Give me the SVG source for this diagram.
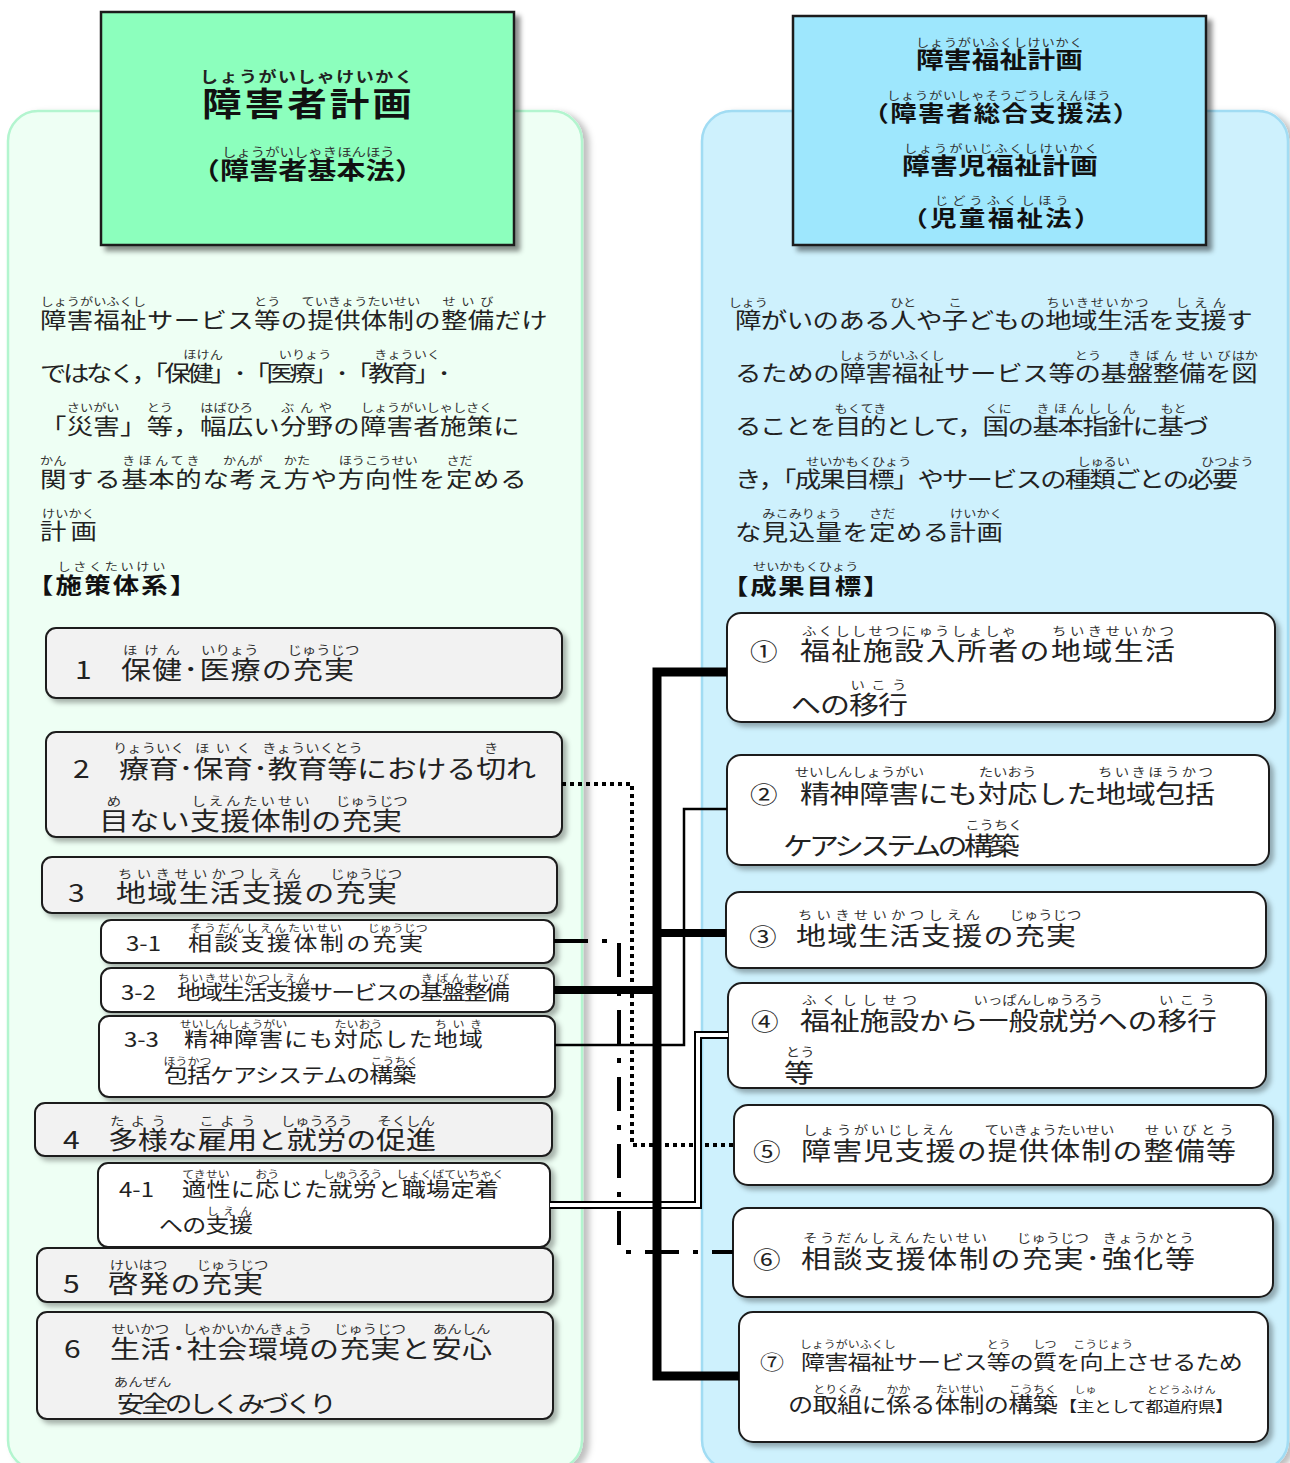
<svg xmlns="http://www.w3.org/2000/svg" width="1290" height="1463" viewBox="0 0 1290 1463">
<defs>
<filter id="psh" x="-5%" y="-5%" width="115%" height="115%"><feDropShadow dx="6" dy="3" stdDeviation="3" flood-color="#000" flood-opacity="0.25"/></filter>
<filter id="hsh" x="-5%" y="-5%" width="115%" height="120%"><feDropShadow dx="5" dy="5" stdDeviation="2.5" flood-color="#000" flood-opacity="0.45"/></filter>
<filter id="bsh" x="-5%" y="-15%" width="112%" height="140%"><feDropShadow dx="4" dy="4" stdDeviation="2.5" flood-color="#000" flood-opacity="0.3"/></filter>
</defs>
<style>
text{font-family:"Noto Sans CJK JP","Noto Sans",sans-serif;fill:#222}
.h{font-weight:bold;fill:#111}
.p{font-size:22px}
.r15{font-size:15px;letter-spacing:0;fill:#222}
.r12{font-size:12px;letter-spacing:0;font-weight:normal;fill:#333}
.r11{font-size:11px;letter-spacing:0;font-weight:normal;fill:#333}
.r10{font-size:10px;letter-spacing:0;fill:#333}
.r9{font-size:9px;letter-spacing:0;fill:#333}
.f33{font-size:33px}
.f25{font-size:25px}
.f24{font-size:24px}
.f23{font-size:23px}
.f22{font-size:22px}
.f21{font-size:21px}
.f20{font-size:20px}
.f15{font-size:15px}
.box{stroke:#1e1e1e;stroke-width:2}
.g{fill:#f2f2f2}
.w{fill:#fff}
.hd{stroke:#1a1a1a;stroke-width:2.5}
.c{fill:none;stroke:#000;stroke-linejoin:miter;stroke-linecap:butt}
.cw{fill:none;stroke:#fff;stroke-linejoin:miter;stroke-linecap:butt}
</style>

<g id="panels">
<rect x="8" y="111" width="574" height="1359" rx="30" fill="#eefff4" stroke="#b3f5cf" stroke-width="2.5" filter="url(#psh)"/>
<rect x="702" y="111" width="586" height="1359" rx="30" fill="#cef1fd" stroke="#a1dcf3" stroke-width="2.5" filter="url(#psh)"/>
</g>

<g id="header-left">
<rect class="hd" x="101" y="12" width="413" height="233" fill="#8cffbd" filter="url(#hsh)"/>
<g transform="scale(1.2,1)">
<text class="h f33" x="168.33" y="116" style="letter-spacing:2.5px">障害者計画<tspan class="r15" x="166.67" y="82" style="letter-spacing:1.25px">しょうがいしゃけいかく</tspan></text>
<text class="h f24" x="159.17" y="179" style="letter-spacing:0.28px">（障害者基本法）<tspan class="r12" x="185" y="157">しょうがいしゃきほんほう</tspan></text>
</g>
</g>

<g id="header-right">
<rect class="hd" x="793" y="16" width="413" height="229" fill="#9ee7fd" filter="url(#hsh)"/>
<g transform="scale(1.2,1)">
<text class="h f23" x="763.33" y="68" style="letter-spacing:0.23px">障害福祉計画<tspan class="r11" x="763.33" y="47" style="letter-spacing:0.65px">しょうがいふくしけいかく</tspan></text>
<text class="h f22" x="718.75" y="121" style="letter-spacing:1.19px">（障害者総合支援法）<tspan class="r11" x="739.17" y="100" style="letter-spacing:0.71px">しょうがいしゃそうごうしえんほう</tspan></text>
<text class="h f23" x="751.67" y="174" style="letter-spacing:0.39px">障害児福祉計画<tspan class="r11" x="753.33" y="153" style="letter-spacing:1.56px">しょうがいじふくしけいかく</tspan></text>
<text class="h f22" x="751.25" y="226" style="letter-spacing:1.98px">（児童福祉法）<tspan class="r11" x="779.17" y="205" style="letter-spacing:3.38px">じどうふくしほう</tspan></text>
</g>
</g>

<g id="desc-left">
<g transform="scale(1.2,1)">
<text class="p" x="33.33" y="328" style="letter-spacing:0.3px">障害福祉サービス等の提供体制の整備だけ<tspan class="r11" x="33.75" y="306">しょうがいふくし</tspan><tspan class="r11" x="211.75" y="306">とう</tspan><tspan class="r11" x="251.3" y="306">ていきょうたいせい</tspan><tspan class="r11" x="368.67" y="306" style="letter-spacing:4.83px">せいび</tspan></text>
<text class="p" x="33.33" y="381" style="letter-spacing:-2.78px">ではなく，「保健」･「医療」･「教育」･<tspan class="r11" x="152.75" y="359">ほけん</tspan><tspan class="r11" x="232.3" y="359">いりょう</tspan><tspan class="r11" x="311.9" y="359">きょういく</tspan></text>
<text class="p" x="33.33" y="434" style="letter-spacing:0.235px">「災害」等，幅広い分野の障害者施策に<tspan class="r11" x="55.7" y="412">さいがい</tspan><tspan class="r11" x="122.25" y="412">とう</tspan><tspan class="r11" x="166.9" y="412">はばひろ</tspan><tspan class="r11" x="234.2" y="412" style="letter-spacing:4.75px">ぶんや</tspan><tspan class="r11" x="300.6" y="412">しょうがいしゃしさく</tspan></text>
<text class="p" x="33.33" y="487" style="letter-spacing:0.575px">関する基本的な考え方や方向性を定める<tspan class="r11" x="33.33" y="465">かん</tspan><tspan class="r11" x="101.9" y="465" style="letter-spacing:2.63px">きほんてき</tspan><tspan class="r11" x="185.8" y="465">かんが</tspan><tspan class="r11" x="236.5" y="465">かた</tspan><tspan class="r11" x="282.25" y="465">ほうこうせい</tspan><tspan class="r11" x="372" y="465">さだ</tspan></text>
<text class="p" x="33.33" y="539" style="letter-spacing:3.5px">計画<tspan class="r11" x="35.1" y="518">けいかく</tspan></text>
<text class="h p" x="22.5" y="593" style="letter-spacing:1.83px">【施策体系】<tspan class="r11" x="47.9" y="571" style="letter-spacing:2.17px">しさくたいけい</tspan></text>
</g>
</g>

<g id="desc-right">
<g transform="scale(1.2,1)">
<text class="p" x="612.5" y="328" style="letter-spacing:-0.44px">障がいのある人や子どもの地域生活を支援す<tspan class="r11" x="607" y="307">しょう</tspan><tspan class="r11" x="741.8" y="307">ひと</tspan><tspan class="r11" x="790.5" y="307">こ</tspan><tspan class="r11" x="872" y="307" style="letter-spacing:1.35px">ちいきせいかつ</tspan><tspan class="r11" x="979.8" y="307" style="letter-spacing:4.42px">しえん</tspan></text>
<text class="p" x="612.5" y="381" style="letter-spacing:-0.22px">るための障害福祉サービス等の基盤整備を図<tspan class="r11" x="699.3" y="360">しょうがいふくし</tspan><tspan class="r11" x="895.7" y="360">とう</tspan><tspan class="r11" x="940.1" y="360" style="letter-spacing:3.93px">きばんせいび</tspan><tspan class="r11" x="1026.4" y="360">はか</tspan></text>
<text class="p" x="612.5" y="434" style="letter-spacing:-1.14px">ることを目的として，国の基本指針に基づ<tspan class="r11" x="695.4" y="413">もくてき</tspan><tspan class="r11" x="821.1" y="413">くに</tspan><tspan class="r11" x="863.7" y="413" style="letter-spacing:3.38px">きほんししん</tspan><tspan class="r11" x="967.1" y="413">もと</tspan></text>
<text class="p" x="612.5" y="487" style="letter-spacing:-1.52px">き，「成果目標」やサービスの種類ごとの必要<tspan class="r11" x="671.7" y="466">せいかもくひょう</tspan><tspan class="r11" x="897.7" y="466">しゅるい</tspan><tspan class="r11" x="1000.9" y="466">ひつよう</tspan></text>
<text class="p" x="612.5" y="540" style="letter-spacing:0.37px">な見込量を定める計画<tspan class="r11" x="635.25" y="518">みこみりょう</tspan><tspan class="r11" x="724.3" y="518">さだ</tspan><tspan class="r11" x="791.7" y="518">けいかく</tspan></text>
<text class="h p" x="601.67" y="594" style="letter-spacing:1.5px">【成果目標】<tspan class="r11" x="627.5" y="571">せいかもくひょう</tspan></text>
</g>
</g>

<g id="policy-1">
<rect class="box g" x="46" y="628" width="516" height="70" rx="10" filter="url(#bsh)"/>
<g transform="scale(1.2,1)">
<text class="f25" x="62.5" y="679">1</text>
<text class="f25" x="100.83" y="679" style="letter-spacing:0.95px">保健･医療の充実<tspan class="r12" x="102.5" y="655" style="letter-spacing:5.75px">ほけん</tspan><tspan class="r12" x="167.5" y="655">いりょう</tspan><tspan class="r12" x="239.5" y="655">じゅうじつ</tspan></text>
</g>
</g>

<g id="policy-2">
<rect class="box g" x="46" y="732" width="516" height="105" rx="10" filter="url(#bsh)"/>
<g transform="scale(1.2,1)">
<text class="f25" x="60.83" y="778">2</text>
<text class="f25" x="99.17" y="778" style="letter-spacing:-0.18px">療育･保育･教育等における切れ<tspan class="r12" x="94.1" y="753">りょういく</tspan><tspan class="r12" x="162.5" y="753" style="letter-spacing:5.33px">ほいく</tspan><tspan class="r12" x="218.5" y="753">きょういくとう</tspan><tspan class="r12" x="403.4" y="753">き</tspan></text>
<text class="f25" x="82.5" y="830" style="letter-spacing:0.28px">目ない支援体制の充実<tspan class="r12" x="89" y="806">め</tspan><tspan class="r12" x="159.6" y="806" style="letter-spacing:2.39px">しえんたいせい</tspan><tspan class="r12" x="279.8" y="806">じゅうじつ</tspan></text>
</g>
</g>

<g id="policy-3">
<rect class="box g" x="42" y="857" width="515" height="56" rx="10" filter="url(#bsh)"/>
<g transform="scale(1.2,1)">
<text class="f25" x="56.67" y="902">3</text>
<text class="f25" x="96.67" y="902" style="letter-spacing:1.15px">地域生活支援の充実<tspan class="r12" x="98.33" y="879" style="letter-spacing:3.61px">ちいきせいかつしえん</tspan><tspan class="r12" x="275.25" y="879">じゅうじつ</tspan></text>
</g>
</g>

<g id="policy-3-1">
<rect class="box w" x="101" y="920" width="453" height="43" rx="10" filter="url(#bsh)"/>
<g transform="scale(1.2,1)">
<text class="f20" x="105" y="951">3-1</text>
<text class="f20" x="156.67" y="951" style="letter-spacing:1.98px">相談支援体制の充実<tspan class="r10" x="158.33" y="932" style="letter-spacing:1.67px">そうだんしえんたいせい</tspan><tspan class="r10" x="306.5" y="932">じゅうじつ</tspan></text>
</g>
</g>

<g id="policy-3-2">
<rect class="box w" x="101" y="968" width="453" height="44" rx="10" filter="url(#bsh)"/>
<g transform="scale(1.2,1)">
<text class="f20" x="100.83" y="1000">3-2</text>
<text class="f20" x="147.5" y="1000" style="letter-spacing:-1.61px">地域生活支援サービスの基盤整備<tspan class="r10" x="148.33" y="982" style="letter-spacing:1.11px">ちいきせいかつしえん</tspan><tspan class="r10" x="350.83" y="982" style="letter-spacing:2.67px">きばんせいび</tspan></text>
</g>
</g>

<g id="policy-3-3">
<rect class="box w" x="99" y="1016" width="456" height="81" rx="10" filter="url(#bsh)"/>
<g transform="scale(1.2,1)">
<text class="f20" x="103.33" y="1047">3-3</text>
<text class="f20" x="153.33" y="1047" style="letter-spacing:0.83px">精神障害にも対応した地域<tspan class="r10" x="149.58" y="1028">せいしんしょうがい</tspan><tspan class="r10" x="278.75" y="1028">たいおう</tspan><tspan class="r10" x="362.5" y="1028" style="letter-spacing:4.58px">ちいき</tspan></text>
<text class="f20" x="136.67" y="1083" style="letter-spacing:-0.83px">包括ケアシステムの構築<tspan class="r10" x="136.25" y="1065">ほうかつ</tspan><tspan class="r10" x="308.75" y="1065">こうちく</tspan></text>
</g>
</g>

<g id="policy-4">
<rect class="box g" x="35" y="1103" width="517" height="53" rx="10" filter="url(#bsh)"/>
<g transform="scale(1.2,1)">
<text class="f25" x="52.5" y="1149">4</text>
<text class="f25" x="90" y="1149" style="letter-spacing:-0.17px">多様な雇用と就労の促進<tspan class="r12" x="91.67" y="1126" style="letter-spacing:5.33px">たよう</tspan><tspan class="r12" x="166.17" y="1126" style="letter-spacing:5.33px">こよう</tspan><tspan class="r12" x="233.9" y="1126">しゅうろう</tspan><tspan class="r12" x="314.4" y="1126">そくしん</tspan></text>
</g>
</g>

<g id="policy-4-1">
<rect class="box w" x="98" y="1163" width="452" height="84" rx="10" filter="url(#bsh)"/>
<g transform="scale(1.2,1)">
<text class="f20" x="99.17" y="1197">4-1</text>
<text class="f20" x="151.67" y="1197" style="letter-spacing:0.35px">適性に応じた就労と職場定着<tspan class="r10" x="151.8" y="1178">てきせい</tspan><tspan class="r10" x="212.75" y="1178">おう</tspan><tspan class="r10" x="268.9" y="1178">しゅうろう</tspan><tspan class="r10" x="330.3" y="1178">しょくばていちゃく</tspan></text>
<text class="f20" x="132.5" y="1233" style="letter-spacing:-0.56px">への支援<tspan class="r10" x="172.25" y="1215" style="letter-spacing:3.88px">しえん</tspan></text>
</g>
</g>

<g id="policy-5">
<rect class="box g" x="37" y="1248" width="516" height="54" rx="10" filter="url(#bsh)"/>
<g transform="scale(1.2,1)">
<text class="f25" x="52.5" y="1293">5</text>
<text class="f25" x="90" y="1293" style="letter-spacing:1.04px">啓発の充実<tspan class="r12" x="91.5" y="1270">けいはつ</tspan><tspan class="r12" x="163.7" y="1270">じゅうじつ</tspan></text>
</g>
</g>

<g id="policy-6">
<rect class="box g" x="37" y="1312" width="516" height="107" rx="10" filter="url(#bsh)"/>
<g transform="scale(1.2,1)">
<text class="f25" x="53.33" y="1358">6</text>
<text class="f25" x="91.67" y="1358" style="letter-spacing:0.49px">生活･社会環境の充実と安心<tspan class="r12" x="92.9" y="1334">せいかつ</tspan><tspan class="r12" x="152.3" y="1334">しゃかいかんきょう</tspan><tspan class="r12" x="278.3" y="1334">じゅうじつ</tspan><tspan class="r12" x="360.75" y="1334">あんしん</tspan></text>
<text class="f23" x="97.5" y="1412" style="letter-spacing:-3.08px">安全のしくみづくり<tspan class="r12" x="94.9" y="1387">あんぜん</tspan></text>
</g>
</g>

<g id="goal-1">
<rect class="box w" x="727" y="613" width="548" height="109" rx="14" filter="url(#bsh)"/>
<g transform="scale(1.2,1)">
<text class="f23" x="625" y="660">①</text>
<text class="f25" x="666.67" y="660" style="letter-spacing:1.14px">福祉施設入所者の地域生活<tspan class="r12" x="668.33" y="636" style="letter-spacing:1.86px">ふくししせつにゅうしょしゃ</tspan><tspan class="r12" x="876.67" y="636" style="letter-spacing:2.94px">ちいきせいかつ</tspan></text>
<text class="f25" x="659.17" y="714" style="letter-spacing:-0.83px">への移行<tspan class="r12" x="708.75" y="690" style="letter-spacing:5.33px">いこう</tspan></text>
</g>
</g>

<g id="goal-2">
<rect class="box w" x="727" y="755" width="542" height="110" rx="14" filter="url(#bsh)"/>
<g transform="scale(1.2,1)">
<text class="f23" x="625" y="803">②</text>
<text class="f25" x="666.67" y="803" style="letter-spacing:-0.32px">精神障害にも対応した地域包括<tspan class="r12" x="662.2" y="777">せいしんしょうがい</tspan><tspan class="r12" x="815.6" y="777">たいおう</tspan><tspan class="r12" x="915" y="777" style="letter-spacing:1.97px">ちいきほうかつ</tspan></text>
<text class="f25" x="652.5" y="855" style="letter-spacing:-3.23px">ケアシステムの構築<tspan class="r12" x="804.3" y="830">こうちく</tspan></text>
</g>
</g>

<g id="goal-3">
<rect class="box w" x="726" y="892" width="540" height="76" rx="14" filter="url(#bsh)"/>
<g transform="scale(1.2,1)">
<text class="f23" x="624.17" y="945">③</text>
<text class="f25" x="663.33" y="945" style="letter-spacing:1.04px">地域生活支援の充実<tspan class="r12" x="665" y="920" style="letter-spacing:3.52px">ちいきせいかつしえん</tspan><tspan class="r12" x="841.2" y="920">じゅうじつ</tspan></text>
</g>
</g>

<g id="goal-4">
<rect class="box w" x="728" y="983" width="538" height="105" rx="14" filter="url(#bsh)"/>
<g transform="scale(1.2,1)">
<text class="f23" x="625.83" y="1030">④</text>
<text class="f25" x="666.67" y="1030" style="letter-spacing:-0.19px">福祉施設から一般就労への移行<tspan class="r12" x="668.33" y="1005" style="letter-spacing:4.77px">ふくししせつ</tspan><tspan class="r12" x="811.25" y="1005">いっぱんしゅうろう</tspan><tspan class="r12" x="965.83" y="1005" style="letter-spacing:5.33px">いこう</tspan></text>
<text class="f25" x="653.33" y="1082">等<tspan class="r12" x="654.8" y="1057">とう</tspan></text>
</g>
</g>

<g id="goal-5">
<rect class="box w" x="734" y="1105" width="539" height="80" rx="14" filter="url(#bsh)"/>
<g transform="scale(1.2,1)">
<text class="f23" x="627.5" y="1160">⑤</text>
<text class="f25" x="667.5" y="1160" style="letter-spacing:0.96px">障害児支援の提供体制の整備等<tspan class="r12" x="669.17" y="1135" style="letter-spacing:2.13px">しょうがいじしえん</tspan><tspan class="r12" x="820.7" y="1135">ていきょうたいせい</tspan><tspan class="r12" x="954.17" y="1135" style="letter-spacing:3.54px">せいびとう</tspan></text>
</g>
</g>

<g id="goal-6">
<rect class="box w" x="733" y="1208" width="540" height="89" rx="14" filter="url(#bsh)"/>
<g transform="scale(1.2,1)">
<text class="f23" x="627.5" y="1268">⑥</text>
<text class="f25" x="667.5" y="1268" style="letter-spacing:1.32px">相談支援体制の充実･強化等<tspan class="r12" x="669.17" y="1243" style="letter-spacing:2.13px">そうだんしえんたいせい</tspan><tspan class="r12" x="847.4" y="1243">じゅうじつ</tspan><tspan class="r12" x="919" y="1243" style="letter-spacing:0.8px">きょうかとう</tspan></text>
</g>
</g>

<g id="goal-7">
<rect class="box w" x="739" y="1312" width="529" height="130" rx="14" filter="url(#bsh)"/>
<g transform="scale(1.2,1)">
<text class="f20" x="633.33" y="1370">⑦</text>
<text class="f20" x="667.5" y="1370" style="letter-spacing:-0.65px">障害福祉サービス等の質を向上させるため<tspan class="r10" x="666.5" y="1348">しょうがいふくし</tspan><tspan class="r10" x="822.3" y="1348">とう</tspan><tspan class="r10" x="861" y="1348">しつ</tspan><tspan class="r10" x="894.4" y="1348">こうじょう</tspan></text>
<text class="f21" x="656.67" y="1412" style="letter-spacing:-0.6px">の取組に係る体制の構築<tspan class="f15" x="882.5" y="1412" style="letter-spacing:-0.47px">【主として都道府県】</tspan><tspan class="r10" x="677.75" y="1393">とりくみ</tspan><tspan class="r10" x="738.75" y="1393">かか</tspan><tspan class="r10" x="779.75" y="1393">たいせい</tspan><tspan class="r10" x="840.9" y="1393">こうちく</tspan><tspan class="r9" x="895.5" y="1393">しゅ</tspan><tspan class="r9" x="955.83" y="1393" style="letter-spacing:0.62px">とどうふけん</tspan></text>
</g>
</g>

<g id="connectors">
<path class="c" d="M562,784 H632 V1145 H734" stroke-width="4" stroke-dasharray="4 4"/>
<path class="c" d="M554,941 H619 V1252 H733" stroke-width="4" stroke-dasharray="34 14 5 14"/>
<path class="c" d="M555,1045 H684 V809 H727" stroke-width="2.5"/>
<path class="c" d="M550,1205 H698 V1035 H728" stroke-width="8"/>
<path class="cw" d="M550,1205 H698 V1035 H728" stroke-width="4"/>
<path class="c" d="M727,672 H657 V1376 H739" stroke-width="9"/>
<path class="c" d="M554,990 H657" stroke-width="8"/>
<path class="c" d="M657,933 H726" stroke-width="8"/>
</g>
</svg>
